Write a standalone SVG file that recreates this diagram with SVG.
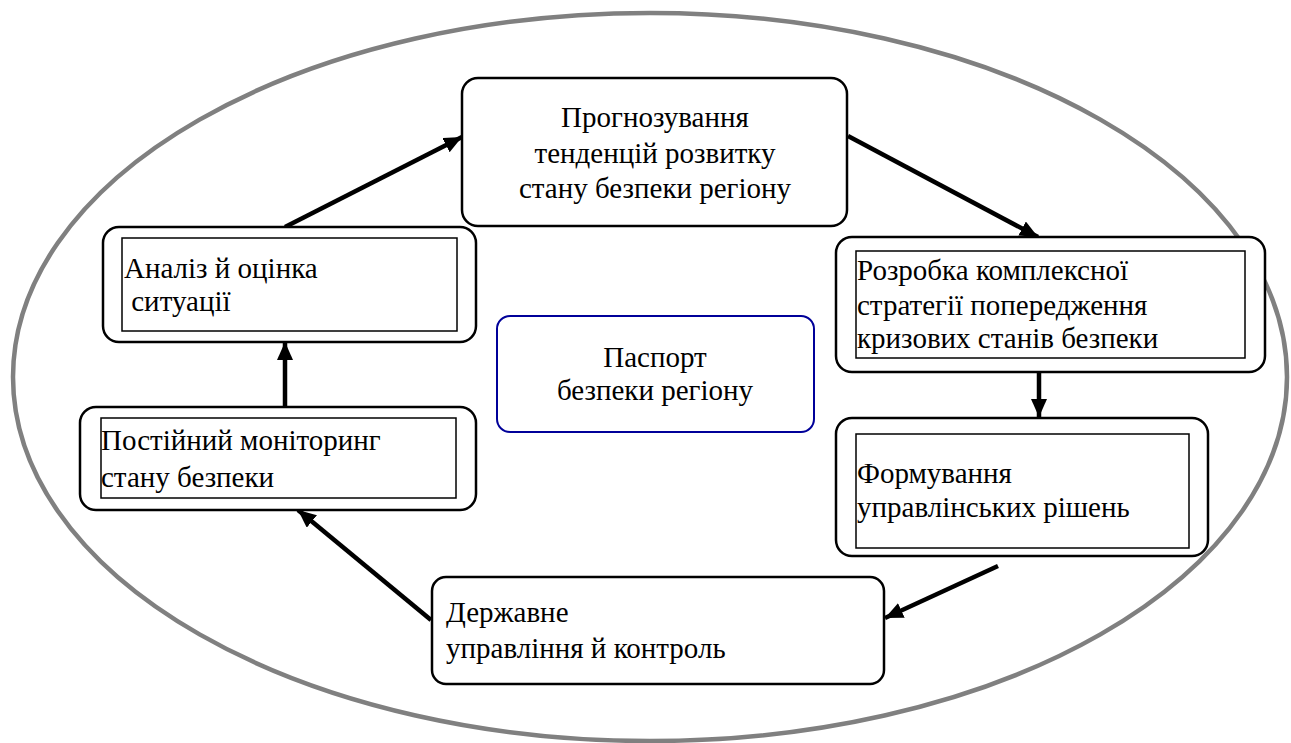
<svg xmlns="http://www.w3.org/2000/svg" width="1291" height="743" viewBox="0 0 1291 743">
<style>
  .t{font-family:'Liberation Serif','Times New Roman',Times,serif;font-size:29px;fill:#000}
  .c{text-anchor:middle}
  .outer{fill:#fff;stroke:#000;stroke-width:2.5}
  .inner{fill:#fff;stroke:#000;stroke-width:1.5}
  .conn{stroke:#000;stroke-width:4.5;fill:none}
</style>
<defs>
  <marker id="ah" markerUnits="userSpaceOnUse" markerWidth="20" markerHeight="16" refX="18" refY="8" orient="auto">
    <path d="M0,0 L18,8 L0,16 Z" fill="#000"/>
  </marker>
</defs>
<rect width="1291" height="743" fill="#fff"/>
<ellipse id="boundary" cx="650" cy="377" rx="637" ry="364" fill="none" stroke="#808080" stroke-width="4.5"/>
<g id="connectors">
  <line class="conn" x1="285" y1="227" x2="462" y2="137" marker-end="url(#ah)"/>
  <line class="conn" x1="848" y1="136" x2="1038" y2="237" marker-end="url(#ah)"/>
  <line class="conn" x1="1039" y1="352" x2="1039" y2="417" marker-end="url(#ah)"/>
  <line class="conn" x1="998" y1="566" x2="885" y2="618" marker-end="url(#ah)"/>
  <line class="conn" x1="431" y1="620" x2="298" y2="510" marker-end="url(#ah)"/>
  <line class="conn" x1="285" y1="407" x2="285" y2="342" marker-end="url(#ah)"/>
</g>
<g id="node-forecast">
  <rect class="outer" x="462" y="78" width="385" height="148" rx="16"/>
  <text class="t c" x="655" y="127">Прогнозування</text>
  <text class="t c" x="655" y="163">тенденцій розвитку</text>
  <text class="t c" x="655" y="198">стану безпеки регіону</text>
</g>
<g id="node-analysis">
  <rect class="outer" x="103" y="227" width="373" height="115" rx="16"/>
  <rect class="inner" x="122" y="238" width="335" height="93"/>
  <text class="t" x="124" y="278">Аналіз й оцінка</text>
  <text class="t" x="124" y="311" xml:space="preserve"> ситуації</text>
</g>
<g id="node-monitoring">
  <rect class="outer" x="80" y="407" width="396" height="103" rx="16"/>
  <rect class="inner" x="101" y="418" width="355" height="80"/>
  <text class="t" x="101" y="450">Постійний моніторинг</text>
  <text class="t" x="101" y="487">стану безпеки</text>
</g>
<g id="node-strategy">
  <rect class="outer" x="836" y="237" width="429" height="135" rx="16"/>
  <rect class="inner" x="856" y="251" width="389" height="107"/>
  <text class="t" x="857" y="280">Розробка комплексної</text>
  <text class="t" x="857" y="315">стратегії попередження</text>
  <text class="t" x="857" y="348">кризових станів безпеки</text>
</g>
<g id="node-decisions">
  <rect class="outer" x="836" y="418" width="372" height="138" rx="16"/>
  <rect class="inner" x="856" y="434" width="333" height="114"/>
  <text class="t" x="857" y="483">Формування</text>
  <text class="t" x="857" y="517">управлінських рішень</text>
</g>
<g id="node-control">
  <rect class="outer" x="432" y="577" width="452" height="107" rx="14"/>
  <text class="t" x="446" y="622">Державне</text>
  <text class="t" x="446" y="658">управління й контроль</text>
</g>
<g id="node-passport">
  <rect x="497" y="316" width="317" height="116" rx="13" fill="#fff" stroke="#000099" stroke-width="2"/>
  <text class="t c" x="655" y="367">Паспорт</text>
  <text class="t c" x="655" y="400">безпеки регіону</text>
</g>
</svg>
